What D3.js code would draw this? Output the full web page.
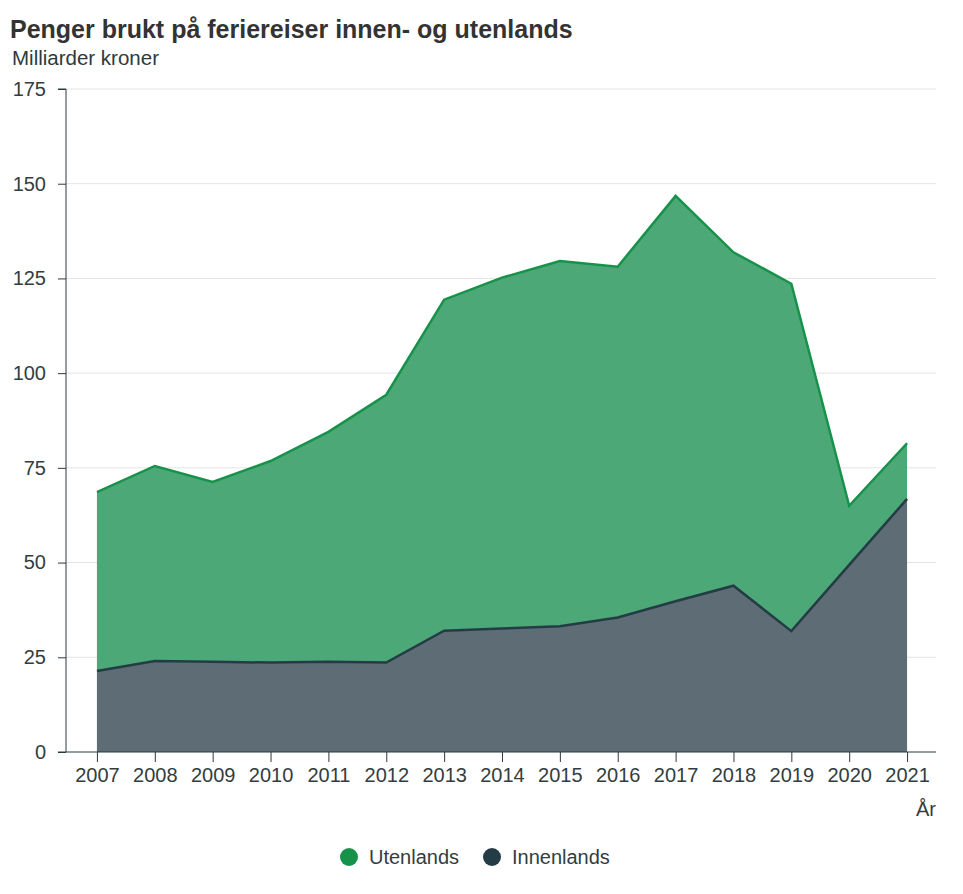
<!DOCTYPE html>
<html lang="no">
<head>
<meta charset="utf-8">
<title>Penger brukt på feriereiser innen- og utenlands</title>
<script src="https://d3js.org/d3.v7.min.js"></script>
<style>
  body { margin: 0; background: #fff; font-family: "Liberation Sans", Arial, sans-serif; }
  .grid line { stroke: #e4e4e8; }
  .axis text { font-size: 20px; fill: #333d40; font-family: "Liberation Sans", Arial, sans-serif; }
  .axis path, .axis line { stroke: #2a3a40; }
</style>
</head>
<body>
<svg id="chart" width="963" height="894"></svg>
<script>
// data (billion NOK)
var years = ["2007","2008","2009","2010","2011","2012","2013","2014","2015","2016","2017","2018","2019","2020","2021"];
var innenlands = [21.4, 24.0, 23.8, 23.6, 23.8, 23.6, 32.0, 32.6, 33.2, 35.5, 39.8, 43.9, 31.9, 49.4, 66.8];
var utenlands  = [47.2, 51.5, 47.5, 53.2, 60.7, 70.7, 87.4, 92.6, 96.4, 92.6, 107.0, 88.0, 91.7, 15.6, 14.7];
var yTicks = [0, 25, 50, 75, 100, 125, 150, 175];
var seriesNames = ["Innenlands", "Utenlands"];
var legendOrder = ["Utenlands", "Innenlands"];

var lineColors = { Utenlands: "#16924a", Innenlands: "#243c45" };
var fillColors = { Utenlands: "#4da877", Innenlands: "#5d6c75" };

var svg = d3.select("#chart");
var plotLeft = 66, plotRight = 936, plotTop = 89, plotBottom = 752;

var x = d3.scalePoint().domain(years).range([plotLeft + 2, plotRight]).padding(0.5);
var y = d3.scaleLinear().domain([0, 175]).range([plotBottom, plotTop]);

var rows = years.map(function(yr, i) {
  return { year: yr, Innenlands: innenlands[i], Utenlands: utenlands[i] };
});
var stacked = d3.stack().keys(seriesNames)(rows);

// title
svg.append("text").attr("x", 10).attr("y", 38)
  .attr("font-size", 25).attr("font-weight", "bold").attr("fill", "#333333")
  .text("Penger brukt på feriereiser innen- og utenlands");
svg.append("text").attr("x", 12).attr("y", 65)
  .attr("font-size", 20.5).attr("fill", "#2c3a3f")
  .text("Milliarder kroner");

// gridlines
svg.append("g").attr("class", "grid")
  .selectAll("line").data(yTicks.slice(1)).enter().append("line")
  .attr("x1", plotLeft).attr("x2", plotRight)
  .attr("y1", function(d) { return y(d); }).attr("y2", function(d) { return y(d); });

// areas
var area = d3.area()
  .x(function(d) { return x(d.data.year); })
  .y0(function(d) { return y(d[0]); })
  .y1(function(d) { return y(d[1]); });
var line = d3.line()
  .x(function(d) { return x(d.data.year); })
  .y(function(d) { return y(d[1]); });

svg.append("g").selectAll("path").data(stacked).enter().append("path")
  .attr("d", area)
  .attr("fill", function(d) { return fillColors[d.key]; });

svg.append("g").selectAll("path").data(stacked).enter().append("path")
  .attr("d", line)
  .attr("fill", "none")
  .attr("stroke-width", 2.5)
  .attr("stroke", function(d) { return lineColors[d.key]; });

// axes
svg.append("g").attr("class", "axis")
  .attr("transform", "translate(" + plotLeft + ",0)")
  .call(d3.axisLeft(y).tickValues(yTicks).tickSize(8).tickPadding(12).tickSizeOuter(0))
  .call(function(g) { g.select(".domain").attr("d", "M-8," + plotTop + "H0V" + plotBottom); });

svg.append("g").attr("class", "axis")
  .attr("transform", "translate(0," + plotBottom + ")")
  .call(d3.axisBottom(x).tickSize(10).tickPadding(6).tickSizeOuter(0))
  .call(function(g) { g.select(".domain").attr("d", "M" + (plotLeft - 8) + ",0H" + plotRight); });

svg.append("text").attr("x", plotRight).attr("y", 816)
  .attr("text-anchor", "end").attr("font-size", 20).attr("fill", "#333d40")
  .text("År");

// legend
var legend = svg.append("g").selectAll("g").data(legendOrder).enter().append("g")
  .attr("transform", function(d, i) { return "translate(" + (349 + i * 143) + ",857)"; });
legend.append("circle").attr("r", 9)
  .attr("fill", function(d) { return lineColors[d]; });
legend.append("text").attr("x", 20).attr("y", 7)
  .attr("font-size", 20).attr("fill", "#333d40")
  .text(function(d) { return d; });
</script>
</body>
</html>
